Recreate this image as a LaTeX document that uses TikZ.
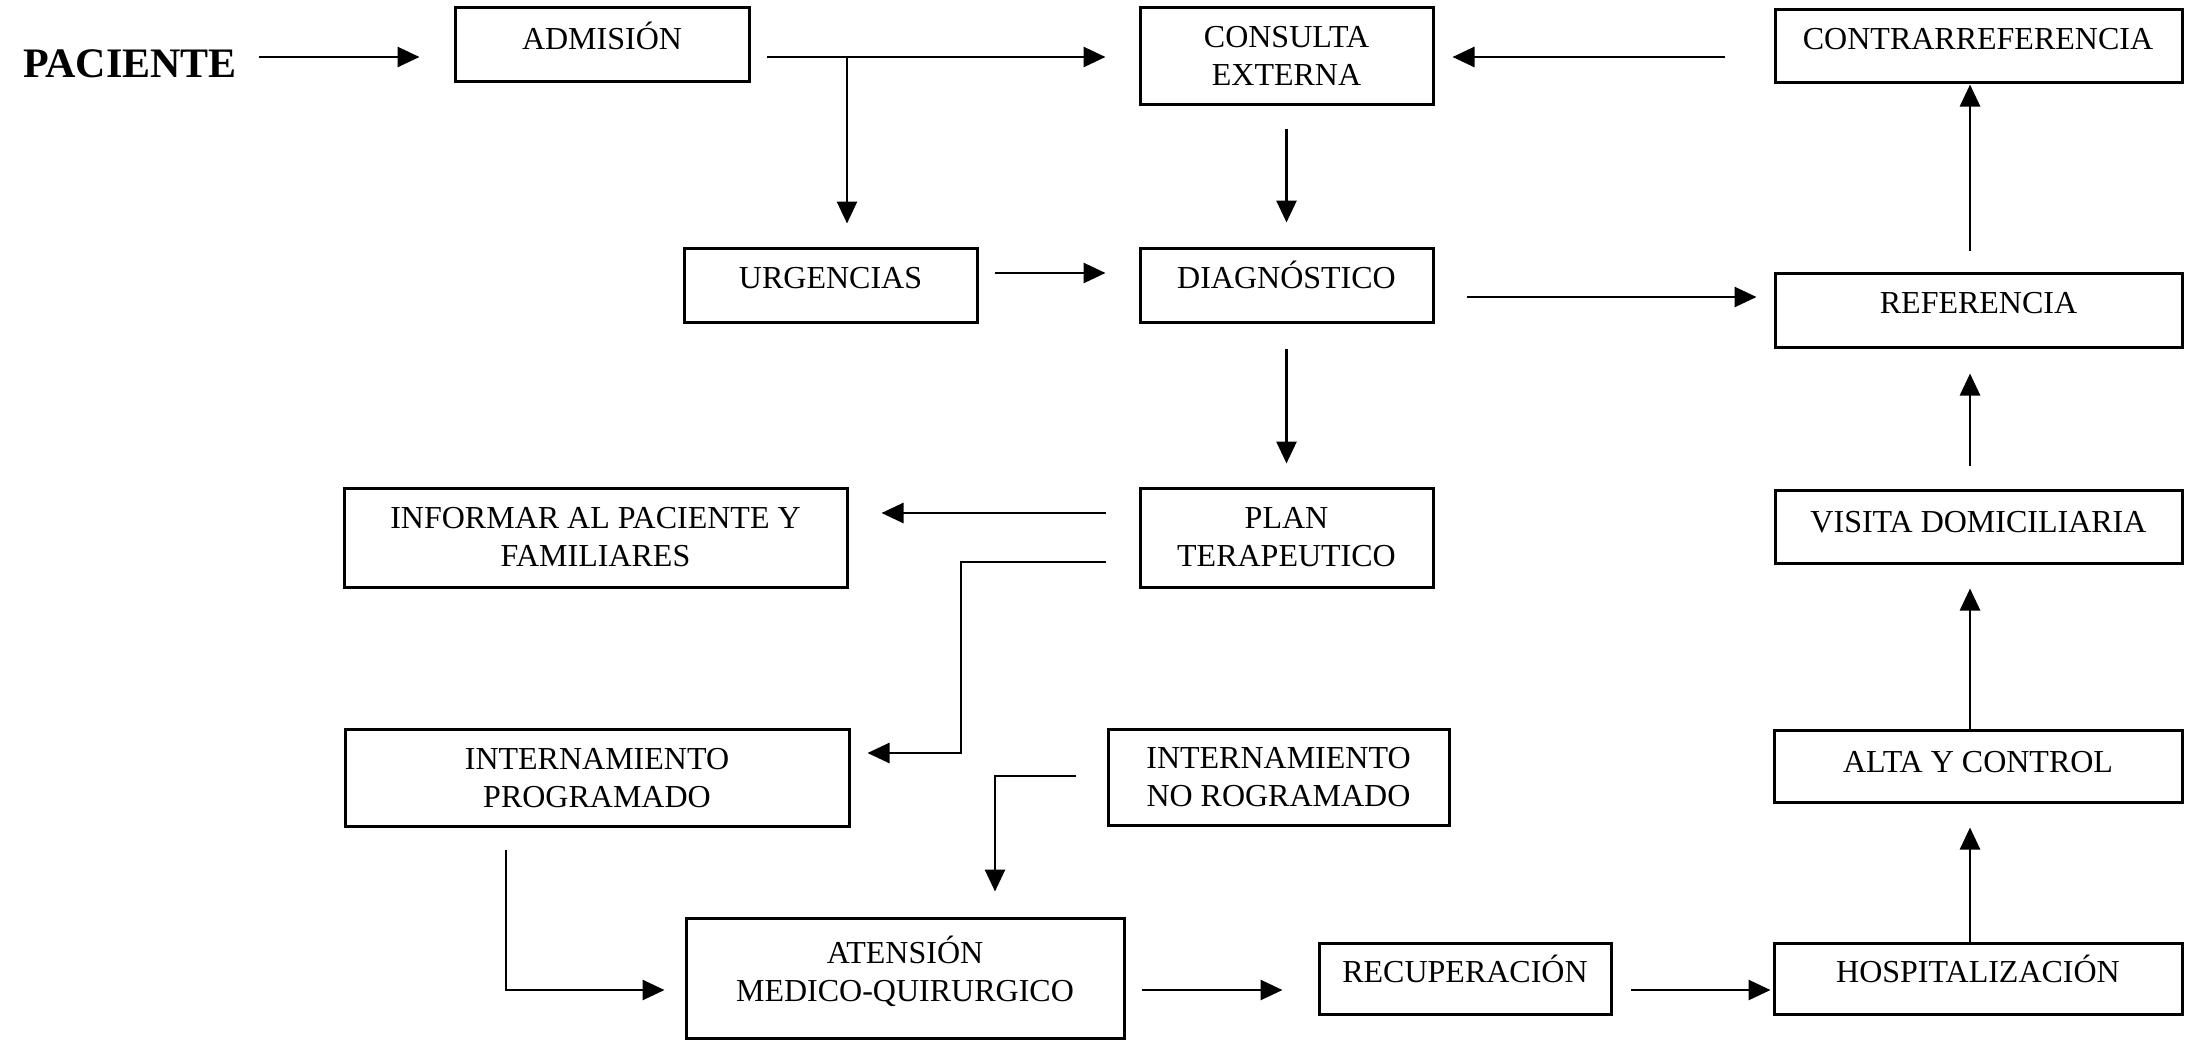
\documentclass[tikz,border=0pt]{standalone}
\usepackage{fontspec}
\setmainfont{Liberation Serif}
\usetikzlibrary{arrows.meta,calc}
\begin{document}
\begin{tikzpicture}[x=1pt,y=-1pt,
  box/.style={draw, line width=3pt, rectangle, inner sep=0pt},
  lbl/.style={font=\fontsize{32}{38}\selectfont, align=center, inner sep=0pt},
  lblone/.style={lbl, text height=21pt, text depth=0pt},
  arr/.style={line width=2.7pt, -{Triangle[length=22pt,width=20pt]}}]
\useasboundingbox (0,0) rectangle (2191,1044);
\fill[white] (0,0) rectangle (2191,1044);

% boxes
\node[box, minimum width=294pt, minimum height=74pt] (adm)    at (602,44)      {};
\node[box, minimum width=293pt, minimum height=97pt] (cons)   at (1286.5,55.5) {};
\node[box, minimum width=407pt, minimum height=73pt] (contra) at (1978.5,45.5) {};
\node[box, minimum width=293pt, minimum height=74pt] (urg)    at (830.5,285)   {};
\node[box, minimum width=293pt, minimum height=74pt] (diag)   at (1286.5,285)  {};
\node[box, minimum width=407pt, minimum height=74pt] (ref)    at (1978.5,310)  {};
\node[box, minimum width=503pt, minimum height=99pt] (inf)    at (595.5,537.5) {};
\node[box, minimum width=293pt, minimum height=99pt] (plan)   at (1286.5,537.5){};
\node[box, minimum width=407pt, minimum height=73pt] (vis)    at (1978.5,526.5){};
\node[box, minimum width=504pt, minimum height=97pt] (intp)   at (597,777.5)   {};
\node[box, minimum width=341pt, minimum height=96pt] (intnp)  at (1278.5,777)  {};
\node[box, minimum width=408pt, minimum height=72pt] (alta)   at (1978,766)    {};
\node[box, minimum width=438pt, minimum height=120pt](aten)   at (905,978)     {};
\node[box, minimum width=292pt, minimum height=71pt] (rec)    at (1465,978.5)  {};
\node[box, minimum width=408pt, minimum height=71pt] (hosp)   at (1978,978.5)  {};

% texts
\node[font=\bfseries\fontsize{42}{50}\selectfont, inner sep=0pt, text height=28pt, text depth=0pt] (pac) at (130,63.5) {PACIENTE};
\node[lblone] (admT)    at (602,39)       {ADMISIÓN};
\node[lbl]    (consT)   at (1286.5,56)    {CONSULTA\\EXTERNA};
\node[lblone] (contraT) at (1978,39)      {CONTRARREFERENCIA};
\node[lblone] (urgT)    at (830.5,278)    {URGENCIAS};
\node[lblone] (diagT)   at (1286.5,278)   {DIAGNÓSTICO};
\node[lblone] (refT)    at (1978.5,303)   {REFERENCIA};
\node[lbl]    (infT)    at (595.5,537.5)  {INFORMAR AL PACIENTE Y\\FAMILIARES};
\node[lbl]    (planT)   at (1286.5,537.5) {PLAN\\TERAPEUTICO};
\node[lblone] (visT)    at (1978.5,522)   {VISITA DOMICILIARIA};
\node[lbl]    (intpT)   at (597,778)      {INTERNAMIENTO\\PROGRAMADO};
\node[lbl]    (intnpT)  at (1278.5,777)   {INTERNAMIENTO\\NO ROGRAMADO};
\node[lblone] (altaT)   at (1978,762)     {ALTA Y CONTROL};
\node[lbl]    (atenT)   at (905,971)      {ATENSIÓN\\MEDICO-QUIRURGICO};
\node[lblone] (recT)    at (1465,972)     {RECUPERACIÓN};
\node[lblone] (hospT)   at (1978,972)     {HOSPITALIZACIÓN};

% connector levels and columns
\coordinate (yTop) at (0,57);
\coordinate (j1)   at (847,57);
\coordinate (yUrg) at (0,273);
\coordinate (yRef) at (0,297);
\coordinate (xR)   at (1970,0);
\coordinate (yInf) at (0,513);
\coordinate (yK1)  at (0,562);
\coordinate (yK2)  at (0,753);
\coordinate (xK)   at (961,0);
\coordinate (xL)   at (506,0);
\coordinate (yBot) at (0,990);
\coordinate (yM)   at (0,776);
\coordinate (xM)   at (995,0);

% connectors
\draw[arr, shorten <=22pt, shorten >=34pt] (pac.east |- yTop) -- (adm.west |- yTop);
\draw[arr, shorten <=16pt, shorten >=33pt] (adm.east |- yTop) -- (cons.west |- yTop);
\draw[arr, shorten >=23pt] (j1) -- (j1 |- urg.north);
\draw[arr, shorten <=23pt, shorten >=24pt] (cons.south) -- (diag.north);
\draw[arr, shorten <=16pt, shorten >=33pt] (urg.east |- yUrg) -- (diag.west |- yUrg);
\draw[arr, shorten <=32pt, shorten >=17pt] (diag.east |- yRef) -- (ref.west |- yRef);
\draw[arr, shorten <=21pt, shorten >=1pt] (ref.north -| xR) -- (contra.south -| xR);
\draw[arr, shorten <=49pt, shorten >=18pt] (contra.west |- yTop) -- (cons.east |- yTop);
\draw[arr, shorten <=25pt, shorten >=23pt] (diag.south) -- (plan.north);
\draw[arr, shorten <=33pt, shorten >=33pt] (plan.west |- yInf) -- (inf.east |- yInf);
\draw[arr, shorten <=33pt, shorten >=17pt] (plan.west |- yK1) -- (xK |- yK1) -- (xK |- yK2) -- (intp.east |- yK2);
\draw[arr, shorten <=22pt, shorten >=20pt] (intp.south -| xL) -- (xL |- yBot) -- (aten.west |- yBot);
\draw[arr, shorten <=31pt, shorten >=25pt] (intnp.west |- yM) -- (xM |- yM) -- (xM |- aten.north);
\draw[arr, shorten <=16pt, shorten >=35pt] (aten.east |- yBot) -- (rec.west |- yBot);
\draw[arr, shorten <=18pt, shorten >=2pt] (rec.east |- yBot) -- (hosp.west |- yBot);
\draw[arr, shorten >=24pt] (hosp.north -| xR) -- (alta.south -| xR);
\draw[arr, shorten >=24pt] (alta.north -| xR) -- (vis.south -| xR);
\draw[arr, shorten <=23pt, shorten >=25pt] (vis.north -| xR) -- (ref.south -| xR);
\end{tikzpicture}
\end{document}
